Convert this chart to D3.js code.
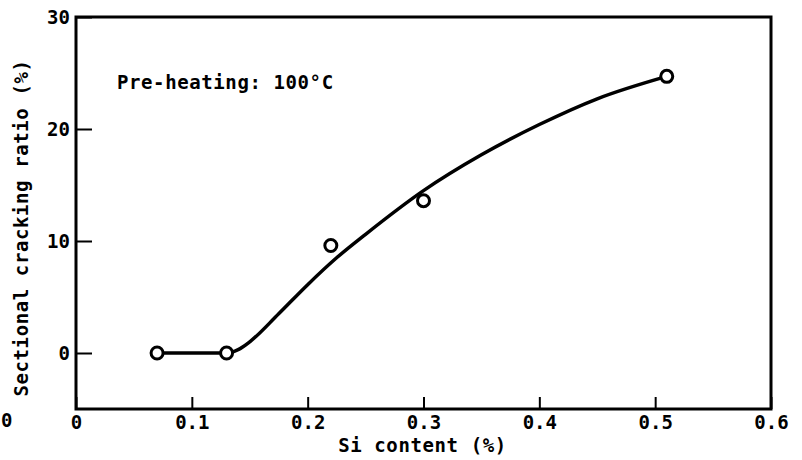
<!DOCTYPE HTML>
<html>
  <head>
    <title>Si content vs cracking ratio</title>
    <style>
      body { margin: 0; background: #fff; }
      text { font-family: 'DejaVu Sans Mono', monospace; font-weight: bold; fill: #000; }
    </style>
  </head>
  <body>
    <script src="https://cdn.jsdelivr.net/npm/d3@7"></script>
    <script>
      // measured points
      var siContent = [0.07, 0.13, 0.22, 0.30, 0.51];
      var crackRatio = [0, 0, 9.6, 13.6, 24.7];

      // hand-drawn fit curve
      var curveX = [0.07, 0.13, 0.14, 0.15, 0.175, 0.2, 0.225, 0.25, 0.3, 0.35, 0.4, 0.45, 0.51];
      var curveY = [0, 0, 0.3, 1.0, 3.5, 6.1, 8.5, 10.6, 14.5, 17.7, 20.4, 22.7, 24.7];

      var xTicks = [0, 0.1, 0.2, 0.3, 0.4, 0.5, 0.6];
      var yTicks = [0, 10, 20, 30];

      var width = 802,
        height = 460;

      var x = d3.scaleLinear().domain([0, 0.6]).range([76, 771]);
      var y = d3.scaleLinear().domain([-5, 30]).range([409, 17]);

      var svg = d3.select('body').append('svg')
          .attr('width', width)
          .attr('height', height);

      // x axis, ticks pointing inward
      var xAxis = svg.append('g')
          .attr('transform', 'translate(0,' + y(-5) + ')')
          .call(d3.axisBottom(x).tickValues(xTicks).tickSize(-12).tickPadding(7)
            .tickFormat(function(d) { return d === 0 ? '0' : d3.format('.1f')(d); }));
      xAxis.select('.domain').remove();
      xAxis.selectAll('line').attr('stroke', '#000').attr('stroke-width', 2);
      xAxis.selectAll('text').attr('font-size', 19).attr('font-family', null);

      // y axis
      var yAxis = svg.append('g')
          .attr('transform', 'translate(' + x(0) + ',0)')
          .call(d3.axisLeft(y).tickValues(yTicks).tickSize(-16).tickPadding(6));
      yAxis.select('.domain').remove();
      yAxis.selectAll('line').attr('stroke', '#000').attr('stroke-width', 2);
      yAxis.selectAll('text').attr('font-size', 19).attr('font-family', null);

      // frame
      svg.append('rect')
          .attr('x', x(0))
          .attr('y', y(30))
          .attr('width', x(0.6) - x(0))
          .attr('height', y(-5) - y(30))
          .attr('fill', 'none')
          .attr('stroke', '#000')
          .attr('stroke-width', 3);

      // fit curve
      var line = d3.line()
          .x(function(d) { return x(d[0]); })
          .y(function(d) { return y(d[1]); })
          .curve(d3.curveMonotoneX);

      svg.append('path')
          .datum(d3.zip(curveX, curveY))
          .attr('d', line)
          .attr('fill', 'none')
          .attr('stroke', '#000')
          .attr('stroke-width', 3.5)
          .attr('stroke-linecap', 'round');

      // data points
      svg.selectAll('circle')
          .data(d3.zip(siContent, crackRatio))
        .enter().append('circle')
          .attr('cx', function(d) { return x(d[0]); })
          .attr('cy', function(d) { return y(d[1]); })
          .attr('r', 6)
          .attr('fill', '#fff')
          .attr('stroke', '#000')
          .attr('stroke-width', 3);

      // annotation
      svg.append('text')
          .attr('x', 117)
          .attr('y', 89)
          .attr('font-size', 19)
          .attr('letter-spacing', 0.6)
          .text('Pre-heating: 100°C');

      // axis titles
      svg.append('text')
          .attr('x', (x(0) + x(0.6)) / 2 - 1)
          .attr('y', 452)
          .attr('text-anchor', 'middle')
          .attr('font-size', 19)
          .attr('letter-spacing', 0.6)
          .text('Si content (%)');

      svg.append('text')
          .attr('transform', 'translate(28,228) rotate(-90)')
          .attr('text-anchor', 'middle')
          .attr('font-size', 19)
          .attr('letter-spacing', 0.6)
          .text('Sectional cracking ratio (%)');

      // stray zero at the left edge of the scan
      svg.append('text')
          .attr('x', 1)
          .attr('y', 427)
          .attr('font-size', 19)
          .text('0');
    </script>
  </body>
</html>
